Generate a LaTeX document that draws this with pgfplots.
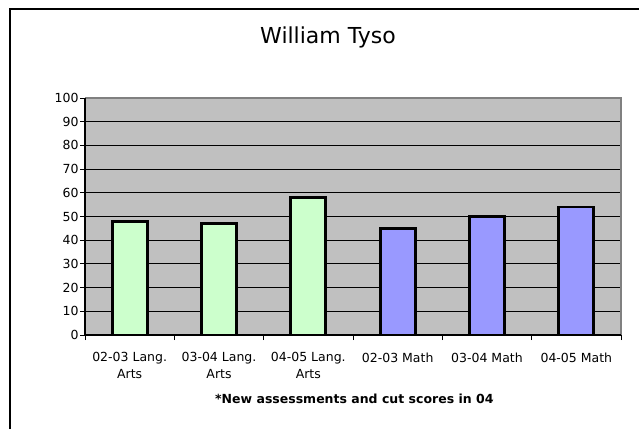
\documentclass[border=0pt]{standalone}
\usepackage{pgfplots}
\pgfplotsset{compat=1.18}
\usepackage{fontspec}
\setmainfont{DejaVu Sans}
\definecolor{plotgray}{HTML}{C0C0C0}
\definecolor{bargreen}{HTML}{CCFFCC}
\definecolor{barblue}{HTML}{9999FF}
\definecolor{edgegray}{HTML}{808080}
\begin{document}
\begin{tikzpicture}[x=1pt,y=1pt]
\useasboundingbox (0,0) rectangle (639,429);
\draw[line width=2.5pt] (10,0) -- (10,420) -- (639,420);
\node[anchor=base, inner sep=0, font=\fontsize{22}{26}\selectfont] at (328,385) {William Tyso};
\begin{axis}[
  at={(85pt,94pt)}, anchor=south west,
  scale only axis, width=536pt, height=237pt,
  xmin=-0.5, xmax=5.5, ymin=0, ymax=100,
  ytick={0,10,...,100},
  ymajorgrids,
  major grid style={black, line width=1pt},
  xtick={-0.5,0.5,...,5.5},
  xticklabels={{02-03 Lang.\\Arts},{03-04 Lang.\\Arts},{04-05 Lang.\\Arts},{02-03 Math},{03-04 Math},{04-05 Math},{}},
  axis line style={draw=none},
  axis background/.style={fill=plotgray},
  tick align=outside,
  major tick length=5pt,
  tick style={black, line width=1pt},
  xtick pos=bottom, ytick pos=left,
  /pgf/number format/assume math mode=true,
  ticklabel style={font=\fontsize{12.5}{17}\selectfont},
  xticklabel style={align=center, xshift=44.667pt, yshift=-9pt},
  yticklabel style={xshift=2pt},
  clip=false,
]
\addplot[ybar, bar width=35pt, bar shift=0pt, fill=bargreen, draw=black, line width=2.7pt]
  coordinates {(0,48) (1,47) (2,58)};
\addplot[ybar, bar width=35pt, bar shift=0pt, fill=barblue, draw=black, line width=2.7pt]
  coordinates {(3,45) (4,50) (5,54)};
\draw[edgegray, line width=2pt] (rel axis cs:0,1) -- (rel axis cs:1,1) -- (rel axis cs:1,0);
\draw[black, line width=1.5pt] (rel axis cs:0,1) -- (rel axis cs:0,0) -- (rel axis cs:1,0);
\end{axis}
\begin{scope}
\clip (200,0) rectangle (493,60);
\node[anchor=base west, inner sep=0, font=\bfseries\fontsize{12.5}{15}\selectfont] at (215,25.5) {*New assessments and cut scores in 04-05};
\end{scope}
\end{tikzpicture}
\end{document}
